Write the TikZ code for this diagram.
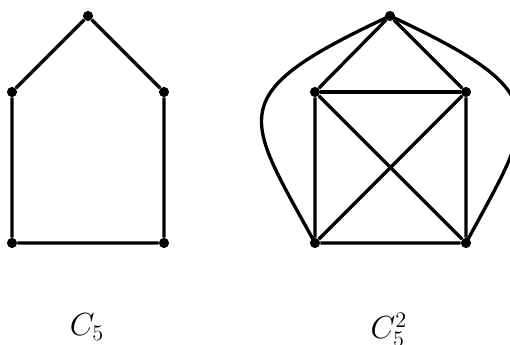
\documentclass[tikz,border=0pt]{standalone}
\begin{document}
\begin{tikzpicture}[x=0.54pt,y=-0.54pt,
  vtx/.style={circle,fill=black,inner sep=0pt,minimum size=5.5pt},
  edge/.style={line width=1.8pt},
  lbl/.style={anchor=base,font=\fontsize{17}{20}\selectfont}]
\useasboundingbox (0,0) rectangle (510,345);
% C5
\node[vtx] (a1) at (88,16) {};
\node[vtx] (a2) at (12,92) {};
\node[vtx] (a3) at (164,92) {};
\node[vtx] (a4) at (12,243) {};
\node[vtx] (a5) at (164,243) {};
\draw[edge] (a1) -- (a2) -- (a4) -- (a5) -- (a3) -- (a1);
% C5^2
\node[vtx] (b1) at (390,16) {};
\node[vtx] (b2) at (315,92) {};
\node[vtx] (b3) at (466,92) {};
\node[vtx] (b4) at (315,243) {};
\node[vtx] (b5) at (466,243) {};
\draw[edge] (b1) -- (b2) -- (b4) -- (b5) -- (b3) -- (b1);
\draw[edge] (b2) -- (b3);
\draw[edge] (b2) -- (b5);
\draw[edge] (b3) -- (b4);
\draw[edge] (b1.center) .. controls (220,95) and (245,115) .. (b4.center);
\draw[edge] (b1.center) .. controls (560,95) and (535,115) .. (b5.center);
% labels
\node[lbl] (l1) at (87,336) {$C_5$};
\node[lbl] (l2) at (389,339) {$C_5^2$};
\end{tikzpicture}
\end{document}
